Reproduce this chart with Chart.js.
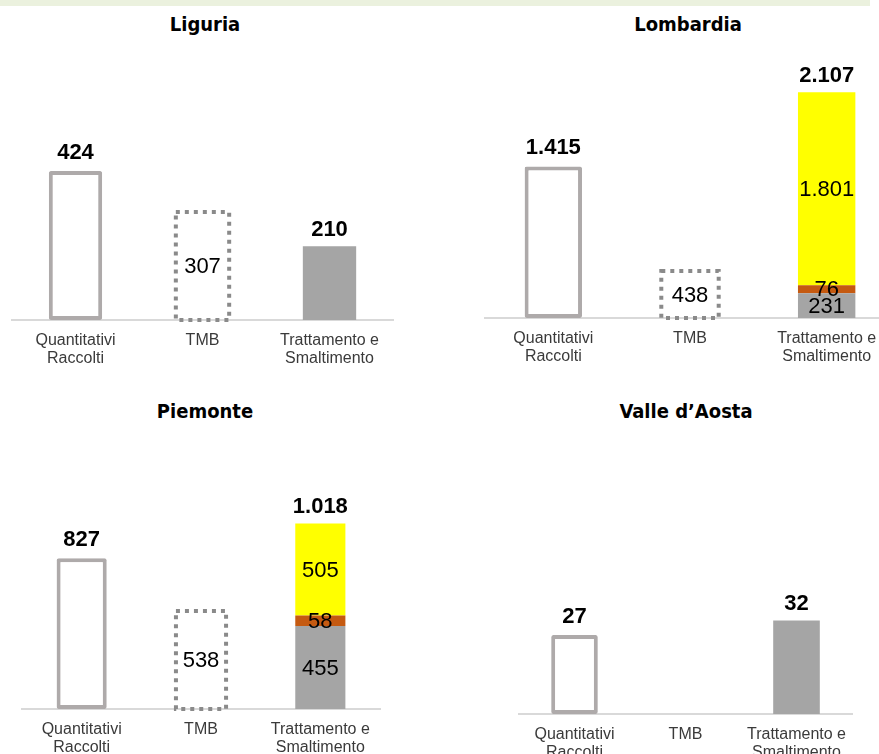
<!DOCTYPE html>
<html>
<head>
<meta charset="utf-8">
<script src="https://cdn.jsdelivr.net/npm/chart.js@4.4.1/dist/chart.umd.min.js"></script>
<style>
  html, body { margin: 0; padding: 0; background: #fff; }
  body { width: 879px; height: 754px; position: relative; overflow: hidden; }
  .band { position: absolute; left: 0; top: 0; width: 870px; height: 6px; background: #ebf1de; }
  canvas { position: absolute; }
  .title { position: absolute; width: 300px; text-align: center; font-family: "DejaVu Sans Condensed", "DejaVu Sans", Roboto, sans-serif; font-weight: bold; font-size: 20px; line-height: 20px; color: #000; }
</style>
</head>
<body>
<div class="band"></div>
<script>
// ---- data ----
const regions = ['Liguria', 'Lombardia', 'Piemonte', 'Valle d\u2019Aosta'];
const categories = [['Quantitativi', 'Raccolti'], 'TMB', ['Trattamento e', 'Smaltimento']];
const quantitativi = [424, 1415, 827, 27];
const tmb = [307, 438, 538, null];
const trattGray = [210, 231, 455, 32];
const trattOrange = [null, 76, 58, null];
const trattYellow = [null, 1801, 505, null];
const trattTotal = [210, 2107, 1018, 32];

// ---- layout (positions only) ----
const panels = [
  { left: 0,   top: 0,   w: 420, h: 375, pad: { left: 12, right: 27, top: 74 },  yMax: 700,  titleCx: 205, titleTop: 14 },
  { left: 440, top: 0,   w: 460, h: 373, pad: { left: 45, right: 5,  top: 61 },  yMax: 2400, titleCx: 688, titleTop: 14 },
  { left: 0,   top: 390, w: 420, h: 374, pad: { left: 22, right: 40, top: 82 },  yMax: 1300, titleCx: 205, titleTop: 401 },
  { left: 440, top: 390, w: 440, h: 379, pad: { left: 79, right: 28, top: 207 }, yMax: 40,   titleCx: 686, titleTop: 401 }
];

const COL_OUTLINE = '#aeaaaa';
const COL_DASH = '#8a8a8a';
const COL_GRAY = '#a5a5a5';
const COL_ORANGE = '#c55a11';
const COL_YELLOW = '#ffff00';
const FONT_FAMILY = '"Liberation Sans", Arial, sans-serif';

function fmt(v) { return String(v).replace(/\B(?=(\d{3})+(?!\d))/g, '.'); }

const labelPlugin = {
  id: 'valueLabels',
  afterDatasetsDraw(chart) {
    const i = chart.options.plugins.valueLabels.idx;
    const ctx = chart.ctx;
    ctx.save();
    ctx.textAlign = 'center';
    ctx.fillStyle = '#000';

    // Quantitativi bold label
    const q = chart.getDatasetMeta(0).data[0];
    if (quantitativi[i] != null && q) {
      const p = q.getProps(['x', 'y'], true);
      ctx.font = 'bold 22px ' + FONT_FAMILY;
      ctx.textBaseline = 'alphabetic';
      ctx.fillText(fmt(quantitativi[i]), p.x, p.y - 12);
    }

    // TMB dashed box + inner label
    const t = chart.getDatasetMeta(1).data[1];
    if (tmb[i] != null && t) {
      const p = t.getProps(['x', 'y', 'base', 'width'], true);
      ctx.save();
      ctx.setLineDash([4, 5]);
      ctx.lineWidth = 4;
      ctx.strokeStyle = COL_DASH;
      ctx.strokeRect(p.x - p.width / 2, p.y, p.width, p.base - p.y);
      ctx.restore();
      ctx.font = '22px ' + FONT_FAMILY;
      ctx.textBaseline = 'middle';
      ctx.fillText(fmt(tmb[i]), p.x, (p.y + p.base) / 2 + 1);
    }

    // Trattamento stack
    const segVals = [trattGray[i], trattOrange[i], trattYellow[i]];
    let topY = Infinity, cx = null;
    const multi = trattOrange[i] != null || trattYellow[i] != null;
    segVals.forEach((v, k) => {
      if (v == null) return;
      const el = chart.getDatasetMeta(2 + k).data[2];
      if (!el) return;
      const p = el.getProps(['x', 'y', 'base'], true);
      cx = p.x;
      topY = Math.min(topY, p.y);
      if (multi) {
        ctx.font = '22px ' + FONT_FAMILY;
        ctx.textBaseline = 'middle';
        ctx.fillText(fmt(v), p.x, (p.y + p.base) / 2 + 1);
      }
    });
    if (cx != null) {
      ctx.font = 'bold 22px ' + FONT_FAMILY;
      ctx.textBaseline = 'alphabetic';
      ctx.fillText(fmt(trattTotal[i]), cx, topY - 10);
    }
    ctx.restore();
  }
};

panels.forEach((pn, i) => {
  const title = document.createElement('div');
  title.className = 'title';
  title.textContent = regions[i];
  title.style.left = (pn.titleCx - 150) + 'px';
  title.style.top = pn.titleTop + 'px';
  document.body.appendChild(title);

  const cv = document.createElement('canvas');
  cv.width = pn.w; cv.height = pn.h;
  cv.style.left = pn.left + 'px';
  cv.style.top = pn.top + 'px';
  cv.style.width = pn.w + 'px';
  cv.style.height = pn.h + 'px';
  document.body.appendChild(cv);

  new Chart(cv, {
    type: 'bar',
    data: {
      labels: categories,
      datasets: [
        { label: 'Quantitativi', data: [quantitativi[i], null, null], backgroundColor: '#ffffff', borderColor: COL_OUTLINE, borderWidth: 4, borderSkipped: false, borderRadius: 2 },
        { label: 'TMB', data: [null, tmb[i], null], backgroundColor: 'rgba(0,0,0,0)', borderWidth: 0 },
        { label: 'Grigio', data: [null, null, trattGray[i]], backgroundColor: COL_GRAY, borderWidth: 0 },
        { label: 'Arancio', data: [null, null, trattOrange[i]], backgroundColor: COL_ORANGE, borderWidth: 0 },
        { label: 'Giallo', data: [null, null, trattYellow[i]], backgroundColor: COL_YELLOW, borderWidth: 0 }
      ]
    },
    options: {
      responsive: false,
      animation: false,
      devicePixelRatio: 1,
      layout: { padding: { left: pn.pad.left, right: pn.pad.right, top: pn.pad.top, bottom: 0 } },
      datasets: { bar: { categoryPercentage: 1, barPercentage: 0.42 } },
      plugins: {
        legend: { display: false },
        tooltip: { enabled: false },
        title: { display: false },
        valueLabels: { idx: i }
      },
      scales: {
        x: {
          stacked: true,
          grid: { display: false, drawTicks: false },
          border: { display: true, color: '#d9d9d9', width: 2 },
          ticks: { color: '#3a3a3a', padding: 12, maxRotation: 0, autoSkip: false, font: { family: FONT_FAMILY, size: 16, lineHeight: 1.125 } },
          afterFit(scale) { scale.height = 55; }
        },
        y: {
          stacked: true,
          display: false,
          min: 0,
          max: pn.yMax
        }
      }
    },
    plugins: [labelPlugin]
  });
});
</script>
</body>
</html>
